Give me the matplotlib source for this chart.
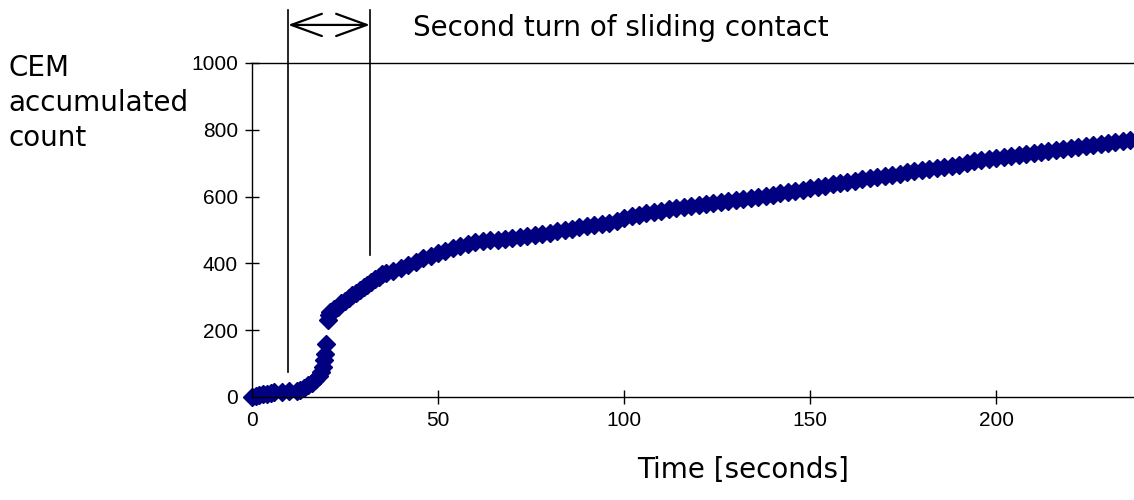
import numpy as np
import matplotlib
matplotlib.use("Agg")
import matplotlib.pyplot as plt

plt.rcParams["font.family"] = "Liberation Sans"

# time [s] and CEM accumulated count
t = [0, 1, 2, 3, 4, 5, 6, 8, 10, 12, 13, 14, 15, 16, 17, 18, 18.5, 19, 19.3, 19.6, 19.8,
     20.3, 20.6, 21, 22, 23, 24, 25, 26, 27, 28, 29, 30, 31, 32, 33, 34, 35, 36, 38, 40,
     42, 44, 46, 48, 50, 52, 54, 56, 58, 60, 62, 64, 66, 68, 70, 72, 74, 76, 78, 80,
     82, 84, 86, 88, 90, 92, 94, 96, 98, 100, 102, 104, 106, 108, 110, 112, 114, 116, 118, 120,
     122, 124, 126, 128, 130, 132, 134, 136, 138, 140, 142, 144, 146, 148, 150, 152, 154, 156, 158, 160,
     162, 164, 166, 168, 170, 172, 174, 176, 178, 180, 182, 184, 186, 188, 190, 192, 194, 196, 198, 200,
     202, 204, 206, 208, 210, 212, 214, 216, 218, 220, 222, 224, 226, 228, 230, 232, 234, 236, 238]
count = [0, 2, 5, 8, 10, 12, 14, 16, 17, 19, 22, 27, 35, 42, 52, 62, 75, 90, 110, 130, 160,
         230, 245, 255, 262, 270, 280, 288, 296, 305, 312, 320, 328, 336, 345, 352, 360, 367, 372, 378, 385,
         395, 405, 415, 422, 430, 437, 445, 452, 458, 463, 466, 469, 471, 474, 477, 479, 482, 485, 488, 492,
         496, 500, 504, 508, 511, 514, 518, 522, 528, 535, 541, 546, 551, 555, 558, 562, 566, 569, 572, 575,
         578, 581, 584, 587, 590, 593, 596, 600, 603, 606, 610, 614, 618, 621, 625, 629, 633, 637, 641, 645,
         648, 652, 655, 658, 661, 665, 669, 673, 677, 680, 683, 686, 689, 692, 696, 701, 706, 710, 713, 716,
         719, 722, 725, 728, 731, 734, 737, 740, 743, 746, 749, 752, 755, 758, 761, 764, 767, 770, 773]

turn_start, turn_end = 9.7, 31.7
xticks = [0, 50, 100, 150, 200]
yticks = [0, 200, 400, 600, 800, 1000]

label_font = "DejaVu Sans"

fig = plt.figure(figsize=(11.34, 5.0), dpi=100)
ax = fig.add_axes([0.2222, 0.206, 0.7778, 0.668])

ax.plot(t, count, "D", color="#000080", ms=9, mec="#000080", clip_on=False)

ax.set_xlim(0, 237)
ax.set_ylim(0, 1000)
ax.set_xticks(xticks)
ax.set_yticks(yticks)
ax.tick_params(direction="inout", length=10, width=1, colors="black", labelsize=15, pad=5)
ax.spines["right"].set_visible(False)
for s in ["left", "bottom", "top"]:
    ax.spines[s].set_linewidth(1)
    ax.spines[s].set_color("black")

# second turn markers
ax.plot([turn_start, turn_start], [75, 1160], color="black", lw=1.2, clip_on=False)
ax.plot([turn_end, turn_end], [425, 1160], color="black", lw=1.2, clip_on=False)
ax.annotate("", xy=(turn_start, 1114), xytext=(turn_end, 1114),
            arrowprops=dict(arrowstyle="<->,head_length=2.2,head_width=0.8", lw=1.6, color="black",
                            shrinkA=0, shrinkB=0),
            annotation_clip=False)
fig.text(413 / 1134, 1 - 28 / 500, "Second turn of sliding contact", fontsize=20,
         family=label_font, ha="left", va="center")
fig.text(8 / 1134, 1 - 103 / 500, "CEM\naccumulated\ncount", fontsize=20,
         family=label_font, ha="left", va="center", linespacing=1.3)
fig.text(743 / 1134, 1 - 470 / 500, "Time [seconds]", fontsize=20,
         family=label_font, ha="center", va="center")

fig.savefig("out.png", dpi=100)
